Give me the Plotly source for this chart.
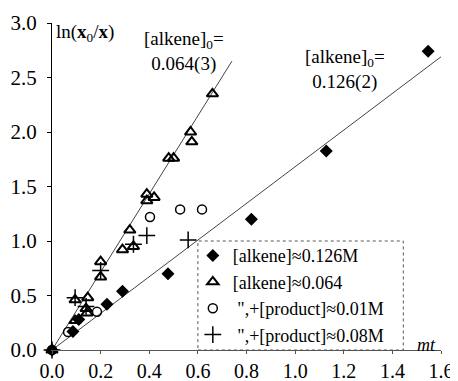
import plotly.graph_objects as go

# [alkene] ~ 0.126 M (filled diamonds)
dia_x = [0, 0.086, 0.11, 0.226, 0.29, 0.477, 0.82, 1.128, 1.547]
dia_y = [0, 0.17, 0.28, 0.42, 0.54, 0.70, 1.20, 1.826, 2.74]

# [alkene] ~ 0.064 (open triangles)
tri_x = [0, 0.095, 0.095, 0.14, 0.144, 0.147, 0.2, 0.2, 0.29, 0.32, 0.335,
         0.39, 0.39, 0.42, 0.48, 0.50, 0.57, 0.575, 0.66]
tri_y = [0, 0.27, 0.46, 0.38, 0.34, 0.48, 0.81, 0.67, 0.92, 1.10, 0.95,
         1.37, 1.43, 1.40, 1.76, 1.76, 2.00, 1.91, 2.35]

# ",+[product] ~ 0.01 M (open circles)
circ_x = [0, 0.066, 0.185, 0.403, 0.527, 0.617]
circ_y = [0, 0.165, 0.35, 1.22, 1.29, 1.29]

# ",+[product] ~ 0.08 M (plus)
plus_x = [0, 0.095, 0.14, 0.2, 0.335, 0.39, 0.56]
plus_y = [0, 0.48, 0.40, 0.73, 0.97, 1.05, 1.01]

# fitted lines
fit064_x = [0, 0.74]
fit064_y = [0, 2.65]
fit126_x = [0, 1.6]
fit126_y = [0, 2.69]

names = ["[alkene]≈0.126M", "[alkene]≈0.064",
         "\u00a0\",+[product]≈0.01M", "\u00a0\",+[product]≈0.08M"]

x_ticks = [0, 0.2, 0.4, 0.6, 0.8, 1.0, 1.2, 1.4, 1.6]
y_ticks = [0, 0.5, 1.0, 1.5, 2.0, 2.5, 3.0]

FONT = "Liberation Serif, Times New Roman, serif"

fig = go.Figure()
fig.add_trace(go.Scatter(x=fit064_x, y=fit064_y, mode="lines",
                         line=dict(color="#444", width=1), showlegend=False,
                         hoverinfo="skip"))
fig.add_trace(go.Scatter(x=fit126_x, y=fit126_y, mode="lines",
                         line=dict(color="#444", width=1), showlegend=False,
                         hoverinfo="skip"))
fig.add_trace(go.Scatter(x=dia_x, y=dia_y, mode="markers", name=names[0],
                         marker=dict(symbol="diamond", size=10, color="black"),
                         cliponaxis=False))
fig.add_trace(go.Scatter(x=tri_x, y=tri_y, mode="markers", name=names[1],
                         marker=dict(symbol="triangle-up-open", size=10, color="black",
                                     line=dict(width=2, color="black")),
                         cliponaxis=False))
fig.add_trace(go.Scatter(x=circ_x, y=circ_y, mode="markers", name=names[2],
                         marker=dict(symbol="circle-open", size=9, color="black",
                                     line=dict(width=1.5, color="black")),
                         cliponaxis=False))
fig.add_trace(go.Scatter(x=plus_x, y=plus_y, mode="markers", name=names[3],
                         marker=dict(symbol="cross-thin-open", size=12, color="black",
                                     line=dict(width=1.5, color="black")),
                         cliponaxis=False))

# legend frame (dotted)
fig.add_shape(type="rect", xref="x", yref="y", x0=0.6, x1=1.445, y0=0, y1=1.0,
              line=dict(color="#555", width=1, dash="dot"))

fig.add_annotation(x=0.543, y=2.74, xref="x", yref="y", showarrow=False,
                   text="[alkene]<sub>0</sub>=<br>0.064(3)",
                   font=dict(family=FONT, size=19, color="black"))
fig.add_annotation(x=1.206, y=2.57, xref="x", yref="y", showarrow=False,
                   text="[alkene]<sub>0</sub>=<br>0.126(2)",
                   font=dict(family=FONT, size=19, color="black"))
fig.add_annotation(x=0, y=1, xref="paper", yref="paper", xanchor="left", yanchor="top",
                   xshift=2, yshift=4, showarrow=False,
                   text="ln(<b>x</b><sub>0</sub>/<b>x</b>)",
                   font=dict(family=FONT, size=19, color="black"))
fig.add_annotation(x=1.54, y=0.05, xref="x", yref="y", showarrow=False,
                   text="<i>mt</i>",
                   font=dict(family=FONT, size=18, color="black"))

# the page adds an 8px body margin, so the figure is 8px smaller here
fig.update_layout(
    width=450, height=373,
    margin=dict(l=44, r=17, t=15, b=31),
    paper_bgcolor="white", plot_bgcolor="white",
    font=dict(family=FONT, size=19, color="black"),
    showlegend=True,
    legend=dict(x=0.362, y=0.345, xanchor="left", yanchor="top",
                bgcolor="rgba(0,0,0,0)", borderwidth=0,
                font=dict(family=FONT, size=18, color="black"),
                tracegroupgap=0, itemwidth=30),
)
fig.update_xaxes(range=[0, 1.6], tickvals=x_ticks, tickformat=".1f",
                 showgrid=False, zeroline=False, showline=True,
                 linecolor="#555", linewidth=1, ticks="outside", ticklen=3,
                 tickcolor="#555", tickfont=dict(family=FONT, size=20),
                 ticklabelstandoff=0, automargin=False)
fig.update_yaxes(range=[0, 3], tickvals=y_ticks, tickformat=".1f",
                 showgrid=False, zeroline=False, showline=True,
                 linecolor="black", linewidth=1, ticks="outside", ticklen=4,
                 tickcolor="black", tickfont=dict(family=FONT, size=21),
                 ticklabelstandoff=6, automargin=False)

fig.write_html("out.html")
